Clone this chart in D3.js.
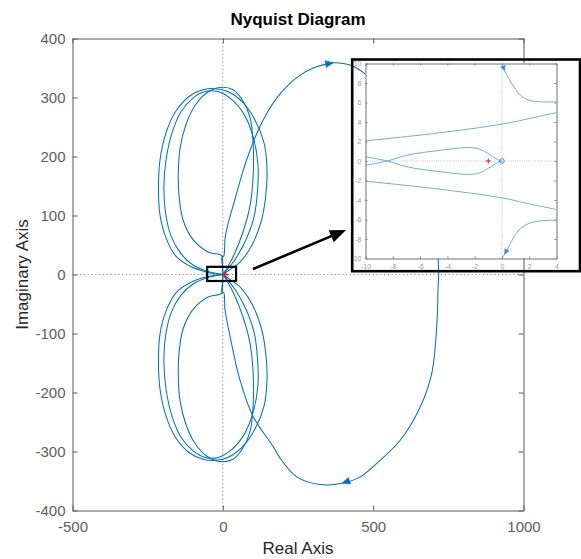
<!DOCTYPE html>
<html><head><meta charset="utf-8">
<script src="https://cdn.jsdelivr.net/npm/d3@7"></script>
<style>
body{margin:0;background:#fff}
svg{display:block}
text{font-family:"Liberation Sans",Arial,Helvetica,sans-serif}
</style>
</head><body>
<svg id="c" width="581" height="559"></svg>
<script>
// ---------- data (real, imaginary) ----------
const xTicks = [-500, 0, 500, 1000];
const yTicks = [-400, -300, -200, -100, 0, 100, 200, 300, 400];

const bigArcUpper = [[0,0],[-2,18],[-3,29],[3,31],[6,45],[7,59],[15,81],[30,109],[46,138],[68,177],[91,211],[118,245],[146,273],[179,299],[213,319],[257,338],[301,350],[346,357],[368,359],[430,354],[473,340],[512,320],[590,281],[656,225],[695,167],[712,82],[716,28],[718,0]];
const bigArcLower = [[718,0],[716,-21],[712,-82],[695,-167],[656,-225],[590,-281],[512,-320],[457,-343],[396,-354],[323,-356],[246,-343],[190,-311],[168,-292],[101,-241],[57,-179],[24,-105],[7,-59],[6,-45],[3,-31],[-3,-30],[-2,-18],[0,0]];

const loop1Upper = [[0,0],[-53,4],[-109,14],[-156,31],[-189,62],[-209,101],[-214,143],[-209,194],[-189,240],[-156,277],[-109,303],[-66,313],[-26,315],[17,310],[64,293],[107,262],[137,223],[147,177],[142,130],[127,89],[97,50],[57,21],[17,6],[0,0]];
const loop2Upper = [[0,0],[-49,5],[-99,16],[-139,35],[-172,65],[-191,106],[-196,148],[-189,194],[-169,240],[-139,276],[-99,299],[-59,310],[-16,310],[31,296],[71,271],[101,233],[117,186],[115,140],[104,98],[77,59],[44,28],[14,8],[0,0]];
const loop3Upper = [[0,0],[-1,21],[-4,32],[-49,38],[-99,59],[-132,92],[-146,135],[-148,174],[-142,215],[-122,255],[-93,286],[-53,308],[-9,317],[34,313],[67,294],[91,265],[101,220],[101,169],[91,118],[67,72],[37,33],[14,11],[0,0]];
const loop1Lower = [[0,0],[-53,-4],[-109,-14],[-156,-31],[-189,-62],[-209,-101],[-214,-143],[-209,-194],[-189,-240],[-156,-277],[-109,-303],[-66,-313],[-26,-315],[17,-310],[64,-293],[107,-262],[137,-223],[147,-177],[142,-130],[127,-89],[97,-50],[57,-21],[17,-6],[0,0]];
const loop2Lower = [[0,0],[-49,-5],[-99,-16],[-139,-35],[-172,-65],[-191,-106],[-196,-148],[-189,-194],[-169,-240],[-139,-276],[-99,-299],[-59,-310],[-16,-310],[31,-296],[71,-271],[101,-233],[117,-186],[115,-140],[104,-98],[77,-59],[44,-28],[14,-8],[0,0]];
const loop3Lower = [[0,0],[-1,-21],[-4,-32],[-49,-38],[-99,-59],[-132,-92],[-146,-135],[-148,-174],[-142,-215],[-122,-255],[-93,-286],[-53,-308],[-9,-317],[34,-313],[67,-294],[91,-265],[101,-220],[101,-169],[91,-118],[67,-72],[37,-33],[14,-11],[0,0]];

// arrow markers: [series, index of tip]
const mainArrows = [["upper", 18], ["lower", 8]];
const criticalPoint = [-1, 0];
const zoomBox = [[-52, -11], [44, 13]];

// inset (zoom of the region near the origin)
const insetXTicks = [-10, -8, -6, -4, -2, 0, 2, 4];
const insetYTicks = [-10, -8, -6, -4, -2, 0, 2, 4, 6, 8, 10];
const insetTopBranch = [[0,10],[0.19,9.25],[0.5,8.46],[0.87,7.6],[1.36,6.75],[1.97,6.24],[2.83,6.07],[4,6.07]];
const insetBottomBranch = [[4,-6.07],[2.83,-6.14],[1.97,-6.41],[1.36,-6.92],[0.87,-7.78],[0.5,-8.8],[0.19,-9.56],[0,-10]];
const insetUpperLine = [[-10,2.07],[-5,2.82],[0,3.78],[2,4.35],[4,4.97]];
const insetLowerLine = [[-10,-2.07],[-5,-2.82],[0,-3.78],[2,-4.4],[4,-4.97]];
const insetLensA = [[-10,-0.43],[-8.4,0],[-6.95,0.6],[-4.5,1.1],[-2.4,1.38],[-1.6,1.2],[-1.0,0.75],[-0.5,0.3],[-0.15,0.05],[0,0]];
const insetLensB = [[-10,0.43],[-8.4,0],[-6.95,-0.6],[-4.5,-1.1],[-2.4,-1.38],[-1.6,-1.2],[-1.0,-0.75],[-0.5,-0.3],[-0.15,-0.05],[0,0]];
const insetArrows = [["top", 1], ["bottom", 6]];

// ---------- drawing ----------
const svg = d3.select("#c");
const BLUE = "#0072bd";
const AXC = "#5a5a5a";
const fmt = d => String(d);
const M = {l:72.5, r:523.5, t:38.5, b:510.5};
const x = d3.scaleLinear().domain([-500, 1000]).range([M.l, M.r]);
const y = d3.scaleLinear().domain([-400, 400]).range([M.b, M.t]);

svg.append("clipPath").attr("id","mainclip").append("rect")
  .attr("x", M.l).attr("y", M.t).attr("width", M.r-M.l).attr("height", M.b-M.t);

const plot = svg.append("g").attr("clip-path","url(#mainclip)");
// dotted zero lines
plot.append("line").attr("x1",M.l).attr("x2",M.r).attr("y1",y(0)).attr("y2",y(0))
  .attr("stroke","#8f8f8f").attr("stroke-dasharray","1.2,2.6");
plot.append("line").attr("x1",x(0)).attr("x2",x(0)).attr("y1",M.t).attr("y2",M.b)
  .attr("stroke","#8f8f8f").attr("stroke-dasharray","1.2,2.6");

const line = d3.line().x(d=>x(d[0])).y(d=>y(d[1])).curve(d3.curveCatmullRom.alpha(0.5));
[loop1Upper, loop2Upper, loop3Upper, loop1Lower, loop2Lower, loop3Lower, bigArcUpper, bigArcLower].forEach(s=>{
  plot.append("path").attr("d", line(s)).attr("fill","none").attr("stroke",BLUE).attr("stroke-width",1.05);
});

function arrowHead(g, p, q, len, hw, color){
  const dx=q[0]-p[0], dy=q[1]-p[1], L=Math.hypot(dx,dy), ux=dx/L, uy=dy/L;
  const bx=q[0]-ux*len, by=q[1]-uy*len;
  g.append("path").attr("d",`M${q[0]},${q[1]}L${bx-uy*hw},${by+ux*hw}L${bx+uy*hw},${by-ux*hw}Z`)
    .attr("fill",color).attr("stroke",color).attr("stroke-width",0.5);
}
const seriesMap = {upper: bigArcUpper, lower: bigArcLower};
mainArrows.forEach(([k,i])=>{
  const s = seriesMap[k];
  arrowHead(plot, [x(s[i-1][0]), y(s[i-1][1])], [x(s[i][0]), y(s[i][1])], 8, 3.5, BLUE);
});

// critical point
const cx0 = x(criticalPoint[0]), cy0 = y(criticalPoint[1]);
plot.append("path").attr("d",`M${cx0-1},${cy0}H${cx0+6}M${cx0+2.5},${cy0-3}V${cy0+3}`)
  .attr("stroke","#e8141c").attr("stroke-width",1.3);

// zoom box
svg.append("rect").attr("x",x(zoomBox[0][0])).attr("y",y(zoomBox[1][1]))
  .attr("width",x(zoomBox[1][0])-x(zoomBox[0][0])).attr("height",y(zoomBox[0][1])-y(zoomBox[1][1]))
  .attr("fill","none").attr("stroke","#000").attr("stroke-width",2.2);

// axes
function styleAxis(g, fs){
  g.selectAll(".domain").attr("stroke",AXC);
  g.selectAll(".tick line").attr("stroke",AXC);
  g.selectAll("text").attr("fill","#5e5e5e").style("font-size",fs+"px")
    .style("font-family",'"Liberation Sans",Arial,sans-serif');
}
const gB = svg.append("g").attr("transform",`translate(0,${M.b})`)
  .call(d3.axisBottom(x).tickValues(xTicks).tickFormat(fmt).tickSize(-5).tickSizeOuter(0).tickPadding(11));
const gL = svg.append("g").attr("transform",`translate(${M.l},0)`)
  .call(d3.axisLeft(y).tickValues(yTicks).tickFormat(fmt).tickSize(-5).tickSizeOuter(0).tickPadding(7));
const gT = svg.append("g").attr("transform",`translate(0,${M.t})`)
  .call(d3.axisTop(x).tickValues(xTicks).tickSize(-5).tickSizeOuter(0).tickFormat(""));
const gR = svg.append("g").attr("transform",`translate(${M.r},0)`)
  .call(d3.axisRight(y).tickValues(yTicks).tickSize(-5).tickSizeOuter(0).tickFormat(""));
[gB,gL,gT,gR].forEach(g=>styleAxis(g,15));

// annotation arrow
(function(){
  const s=[253,269], t=[346,230];
  const dx=t[0]-s[0], dy=t[1]-s[1], L=Math.hypot(dx,dy), ux=dx/L, uy=dy/L;
  const len=16, hw=6.5, bx=t[0]-ux*len, by=t[1]-uy*len;
  svg.append("line").attr("x1",s[0]).attr("y1",s[1]).attr("x2",bx+ux*2).attr("y2",by+uy*2)
    .attr("stroke","#000").attr("stroke-width",2.6);
  svg.append("path").attr("d",`M${t[0]},${t[1]}L${bx-uy*hw},${by+ux*hw}L${bx+uy*hw},${by-ux*hw}Z`).attr("fill","#000");
})();

// titles
svg.append("text").attr("x",298).attr("y",25).attr("text-anchor","middle")
  .style("font-size","17px").style("font-weight","bold").attr("fill","#000").text("Nyquist Diagram");
svg.append("text").attr("x",298).attr("y",554).attr("text-anchor","middle")
  .style("font-size","17px").attr("fill","#262626").text("Real Axis");
svg.append("text").attr("transform","translate(28,274.5) rotate(-90)").attr("text-anchor","middle")
  .style("font-size","17px").attr("fill","#262626").text("Imaginary Axis");

// ---------- inset ----------
const IM = {l:365.5, r:556.5, t:63.5, b:258.5};
const ix = d3.scaleLinear().domain([-10, 4]).range([IM.l, IM.r]);
const iy = d3.scaleLinear().domain([-10, 10]).range([IM.b, IM.t]);
const inset = svg.append("g");
inset.append("rect").attr("x",IM.l).attr("y",IM.t).attr("width",IM.r-IM.l).attr("height",IM.b-IM.t).attr("fill","#fff");
svg.append("clipPath").attr("id","insetclip").append("rect")
  .attr("x",IM.l).attr("y",IM.t).attr("width",IM.r-IM.l).attr("height",IM.b-IM.t);
const ip = inset.append("g").attr("clip-path","url(#insetclip)");
ip.append("line").attr("x1",IM.l).attr("x2",IM.r).attr("y1",iy(0)).attr("y2",iy(0))
  .attr("stroke","#c4c4c4").attr("stroke-dasharray","1,1.2");
ip.append("line").attr("x1",ix(0)).attr("x2",ix(0)).attr("y1",IM.t).attr("y2",IM.b)
  .attr("stroke","#c4c4c4").attr("stroke-dasharray","1,1.2");
const IBLUE = "#6aaee2";
const iline = d3.line().x(d=>ix(d[0])).y(d=>iy(d[1])).curve(d3.curveCatmullRom.alpha(0.5));
[insetTopBranch, insetBottomBranch, insetUpperLine, insetLowerLine, insetLensA, insetLensB].forEach(s=>{
  ip.append("path").attr("d", iline(s)).attr("fill","none").attr("stroke",IBLUE).attr("stroke-width",1);
});
const insetMap = {top: insetTopBranch, bottom: insetBottomBranch};
insetArrows.forEach(([k,i])=>{
  const s = insetMap[k];
  arrowHead(ip, [ix(s[i-1][0]), iy(s[i-1][1])], [ix(s[i][0]), iy(s[i][1])], 5, 2.5, "#3b8fd4");
});
// origin marker and critical point in inset
ip.append("circle").attr("cx",ix(0)).attr("cy",iy(0)).attr("r",2.3).attr("fill","none").attr("stroke","#3b8fd4").attr("stroke-width",1);
const icx = ix(criticalPoint[0]), icy = iy(criticalPoint[1]);
ip.append("path").attr("d",`M${icx-2.5},${icy}H${icx+2.5}M${icx},${icy-2.5}V${icy+2.5}`)
  .attr("stroke","#e8141c").attr("stroke-width",1);

function styleInset(g){
  g.selectAll(".domain").attr("stroke","#707070");
  g.selectAll(".tick line").attr("stroke","#808080");
  g.selectAll("text").attr("fill","#9a9a9a").style("font-size","7px")
    .style("font-family",'"Liberation Sans",Arial,sans-serif');
}
const iB = inset.append("g").attr("transform",`translate(0,${IM.b})`)
  .call(d3.axisBottom(ix).tickValues(insetXTicks).tickFormat(fmt).tickSize(-2).tickSizeOuter(0).tickPadding(6));
const iL = inset.append("g").attr("transform",`translate(${IM.l},0)`)
  .call(d3.axisLeft(iy).tickValues(insetYTicks).tickFormat(fmt).tickSize(-2).tickSizeOuter(0).tickPadding(4));
const iT = inset.append("g").attr("transform",`translate(0,${IM.t})`)
  .call(d3.axisTop(ix).tickValues(insetXTicks).tickSize(-2).tickSizeOuter(0).tickFormat(""));
const iR = inset.append("g").attr("transform",`translate(${IM.r},0)`)
  .call(d3.axisRight(iy).tickValues(insetYTicks).tickSize(-2).tickSizeOuter(0).tickFormat(""));
[iB,iL,iT,iR].forEach(styleInset);

// inset frame (transparent margin)
inset.append("rect").attr("x",352.2).attr("y",59.5).attr("width",227.8).attr("height",211.7)
  .attr("fill","none").attr("stroke","#000").attr("stroke-width",2.6);
</script>
</body></html>
